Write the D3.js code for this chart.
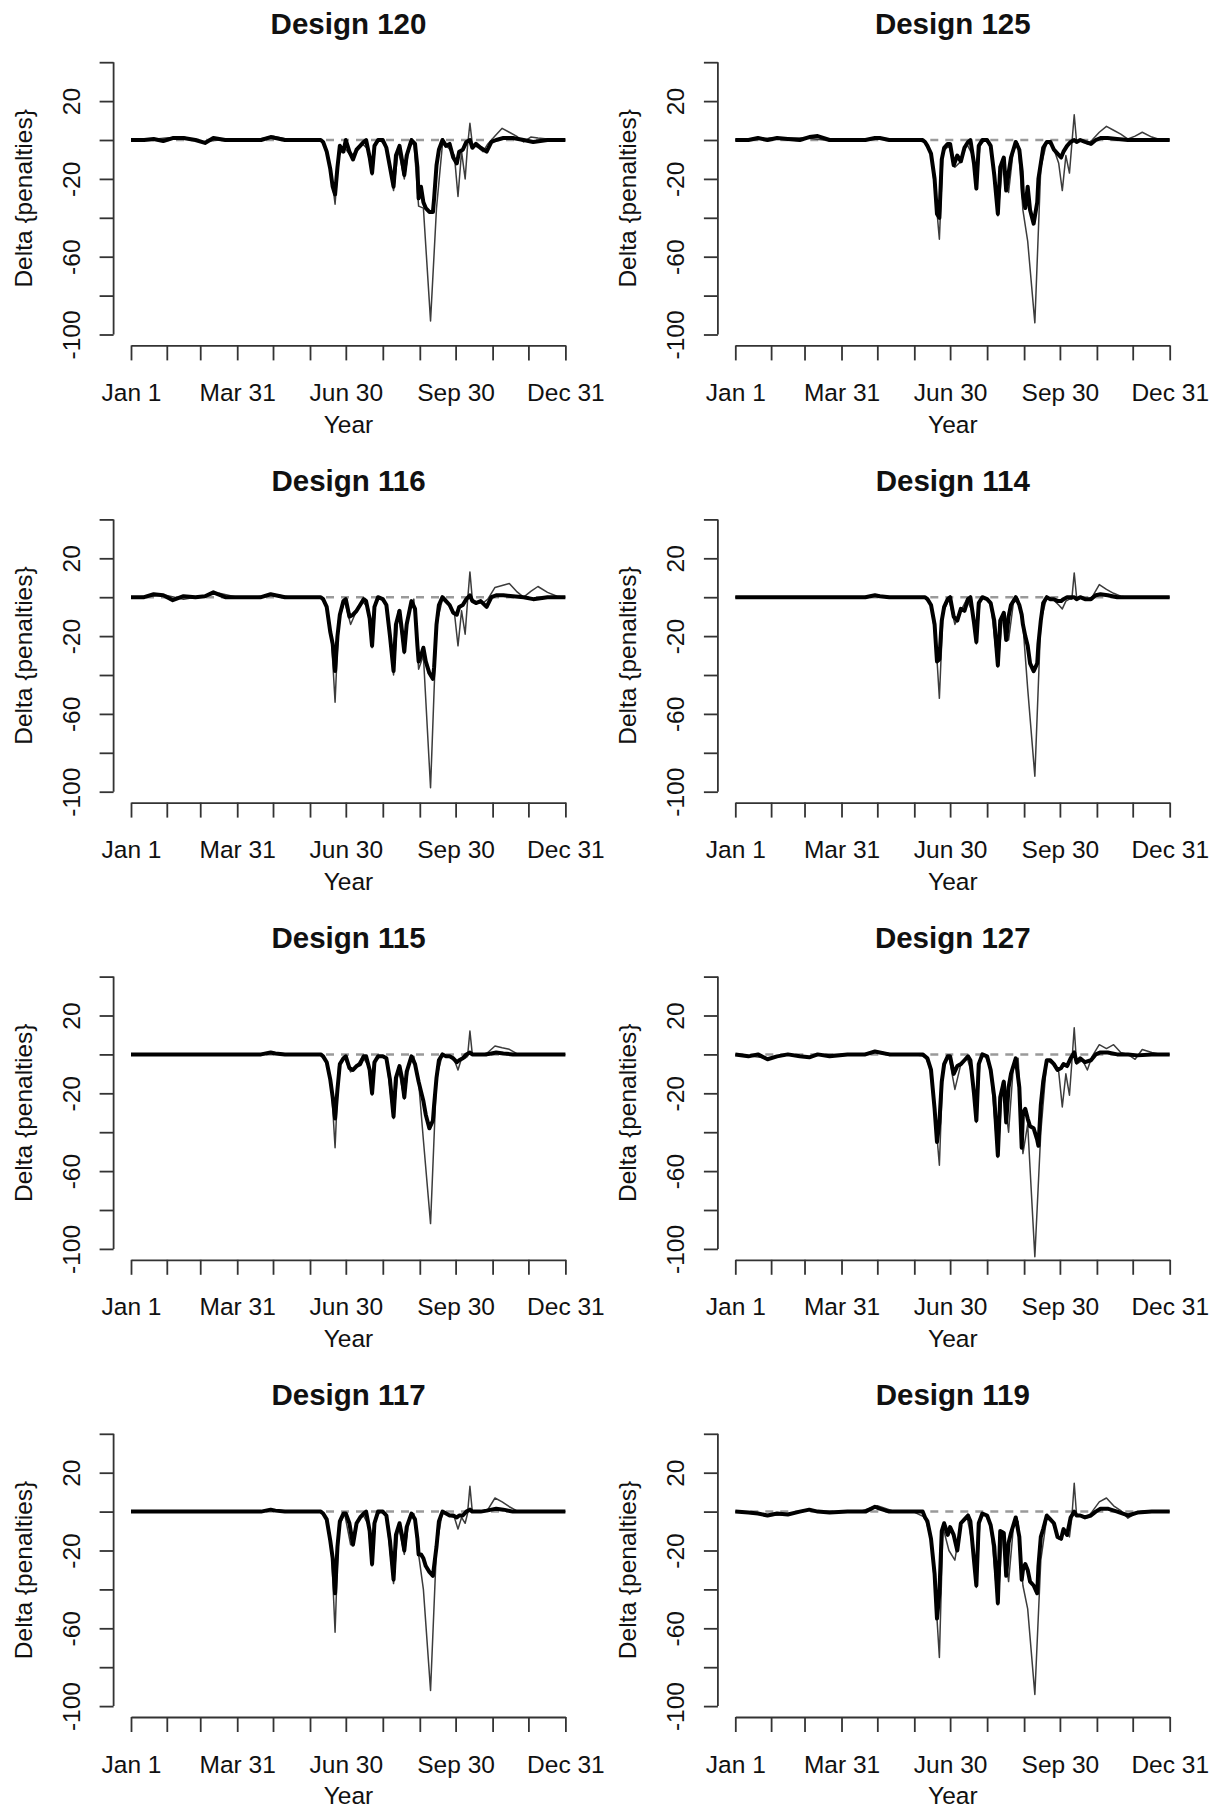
<!DOCTYPE html>
<html lang="en">
<head>
<meta charset="utf-8">
<title>Delta penalties by design</title>
<script src="https://cdn.jsdelivr.net/npm/d3@7"></script>
<style>
  body { margin: 0; background: #fff; }
  text { font-family: "Liberation Sans", Arial, Helvetica, sans-serif; fill: #111; }
</style>
</head>
<body>
<script>
// panel titles, row by row
var titles = ["Design 120", "Design 125", "Design 116", "Design 114",
              "Design 115", "Design 127", "Design 117", "Design 119"];

// x axis: day of year
var tickDays = [1, 31, 59, 90, 120, 151, 181, 212, 243, 273, 304, 334, 365];
var tickLabels = {1: "Jan 1", 90: "Mar 31", 181: "Jun 30", 273: "Sep 30", 365: "Dec 31"};
var yTicks = [40, 20, 0, -20, -40, -60, -80, -100];
var yLabels = [20, -20, -60, -100];

// thick (daily) series, sampled at these days
var thickDays = [1, 12, 20, 28, 36, 45, 55, 63, 70, 80, 95, 110, 118, 122, 130, 145, 158,
  160, 162, 165, 168, 170, 172, 174, 176, 179, 181,
  184, 187, 190, 193, 196, 198, 201, 203, 205, 208,
  212, 215, 218, 221, 223, 226, 228, 230, 232, 236,
  239, 241, 242, 244, 246, 248, 251, 254, 255, 257,
  259, 262, 265, 268, 271, 274, 276, 279, 282, 285,
  287, 290, 294, 299, 303, 307, 313, 321, 330, 338,
  350, 365];

var thick120 = [0, 0, 0.5, -0.5, 1, 1, 0, -1.5, 1, 0, 0, 0, 1.5, 1, 0, 0, 0,
  0, -1, -6, -15, -24, -28, -14, -3, -6, 0,
  -6, -10, -5, -3, -1, 0, -9, -17, -3, 0,
  0, -4, -14, -24, -8, -3, -10, -18, -8, 0,
  -2, -14, -30, -24, -32, -35, -37, -37, -30, -13,
  -5, 0, -3, -2, -9, -12, -6, -5, -1, 0,
  -4, -2, -4, -6, -1, 0, 1, 1, 0, -1,
  0, 0];
var thick125 = [0, 0, 1, 0, 1, 0.5, 0, 1.5, 2, 0, 0, 0, 1, 1, 0, 0, 0,
  -1, -3, -7, -20, -38, -40, -10, -4, -2, -2,
  -13, -8, -11, -4, -1, 0, -12, -25, -3, 0,
  0, -3, -18, -38, -14, -9, -26, -17, -9, -1,
  -5, -16, -28, -35, -24, -36, -43, -32, -20, -12,
  -4, -1, -1, -5, -7, -9, -6, -3, -1, 0,
  -1, 0, -1, -2, 0, 1, 1, 0.5, 0, 0,
  0, 0];
var thick116 = [0, 0, 1.5, 1, -1.5, 0.5, 0, 0.5, 2.5, 0, 0, 0, 1.5, 1, 0, 0, 0,
  0, -1, -5, -18, -24, -38, -20, -9, -2, -1,
  -10, -9, -7, -4, -1, -2, -11, -25, -5, 0,
  -1, -4, -20, -38, -14, -7, -17, -28, -14, -2,
  -6, -25, -33, -30, -26, -33, -39, -42, -36, -14,
  -4, 0, -2, -4, -8, -9, -5, -4, -1, 1,
  -2, -3, -2, -5, 0, 1, 1, 0.5, 0, -1,
  0, 0];
var thick114 = [0, 0, 0, 0, 0, 0, 0, 0, 0, 0, 0, 0, 1, 0.5, 0, 0, 0,
  0, -1, -4, -14, -33, -32, -12, -5, -1, 0,
  -10, -12, -6, -7, -1, 0, -13, -23, -3, 0,
  -1, -3, -12, -35, -12, -8, -22, -10, -4, 0,
  -4, -9, -14, -20, -25, -34, -38, -34, -24, -12,
  -3, 0, -1, -1, -2, -2, -1, 0, 0, 0,
  -1, 0, -1, -1, 1, 1.5, 1, 0, 0, 0,
  0, 0];
var thick115 = [0, 0, 0, 0, 0, 0, 0, 0, 0, 0, 0, 0, 1, 0.5, 0, 0, 0,
  0, -1, -4, -13, -22, -33, -18, -5, -2, -1,
  -7, -8, -6, -5, -1, -1, -8, -20, -4, -1,
  -1, -2, -13, -32, -12, -6, -12, -22, -9, -1,
  -5, -11, -14, -19, -24, -31, -38, -34, -26, -12,
  -3, 0, -1, -1, -2, -4, -3, -2, 0, 1,
  0, 0, 0, 0, 0.5, 1, 0.5, 0, 0, 0,
  0, 0];
var thick127 = [0, -1, 0, -2.5, -1, 0, -1, -1.5, 0, -1, 0, 0, 1.5, 1, 0, 0, 0,
  -1, -2, -8, -28, -45, -35, -14, -5, -1, -1,
  -10, -6, -5, -3, -1, -3, -20, -34, -5, 0,
  -1, -8, -22, -52, -22, -14, -35, -17, -10, -2,
  -17, -48, -30, -28, -33, -37, -38, -44, -47, -26,
  -14, -3, -3, -5, -8, -7, -5, -6, -2, 1,
  -4, -2, -4, -3, 0, 1, 1, 0, 0, -0.5,
  0, 0];
var thick117 = [0, 0, 0, 0, 0, 0, 0, 0, 0, 0, 0, 0, 1, 0.5, 0, 0, 0,
  0, -1, -4, -15, -24, -42, -18, -5, -1, -1,
  -6, -17, -6, -3, -1, 0, -10, -27, -6, 0,
  0, -2, -15, -35, -12, -6, -12, -20, -8, -1,
  -4, -14, -22, -22, -24, -28, -31, -33, -28, -18,
  -5, 0, -1, -2, -2, -3, -2, -2, 0, 1,
  0, 0, 0, 0.5, 1, 1.5, 1, 0, 0, 0,
  0, 0];
var thick119 = [0, -0.5, -1, -2, -1, -1.5, 0, 1, 0, -0.5, 0, 0, 2.5, 1.5, 0, 0, 0,
  -3, -5, -14, -32, -55, -42, -10, -6, -12, -8,
  -12, -20, -6, -4, -2, -5, -25, -38, -6, -1,
  -2, -7, -18, -47, -10, -11, -33, -16, -11, -3,
  -13, -35, -30, -27, -30, -36, -38, -42, -28, -13,
  -9, -2, -4, -6, -13, -14, -9, -12, -3, 0,
  -2, -2, -3, -2, 0, 1.5, 1.5, 0, -2, -0.5,
  0, 0];

// thin (weekly-ish) series, sampled at these days
var thinDays = [1, 15, 30, 45, 60, 75, 90, 105, 120, 135, 150,
  160, 165, 169, 172, 175, 180, 185, 190, 195, 200,
  203, 206, 210, 215, 221, 225, 230, 234, 238, 242,
  246, 252, 257, 262, 267, 272, 275, 278, 281, 283,
  285, 287, 292, 296, 300, 306, 312, 318, 324, 330,
  336, 342, 350, 358, 365];

var thin120 = [0, 0, 1, 1.5, -1, 0, 0, 0, 2, 0, 0,
  0, -5, -18, -33, -8, -4, -8, -6, -2, -5,
  -18, -2, 0, -4, -26, -5, -20, -4, -1, -34,
  -35, -93, -35, -2, -4, -8, -29, -6, -20, -3,
  8.6, -2, -4, -6, -2, 2, 6, 4, 2, -1,
  1.5, 1, 0.5, 0, 0];
var thin125 = [0, 0, 1, 1, 1, 0, 0, 0, 1, 0, 0,
  -1, -7, -30, -51, -6, -3, -14, -11, -2, -8,
  -25, -3, 0, -3, -39, -12, -27, -5, -2, -36,
  -52, -94, -14, -1, -3, -12, -26, -8, -17, -2,
  13, -1, 0, -2, 0, 4, 7, 5, 3, 0.5,
  2, 4, 1.5, 0, 0];
var thin116 = [0, 0.5, 1, -1, 0.5, 2, 0, 0, 1.5, 0, 0,
  0, -5, -22, -54, -12, -2, -14, -7, -2, -6,
  -26, -3, 0, -4, -40, -7, -29, -6, -1, -37,
  -30, -98, -14, -1, -4, -8, -25, -7, -19, -2,
  13, -1, -3, -3, -1, 5, 6, 7, 3, 0,
  3, 5.5, 2.5, 0.5, 0];
var thin114 = [0, 0, 0, 0, 0, 0, 0, 0, 1, 0, 0,
  0, -4, -22, -52, -8, -1, -14, -7, -1, -8,
  -24, -2, 0, -3, -36, -9, -22, -3, -1, -14,
  -47, -92, -12, 0, -1, -4, -6, -2, -1, -1,
  12.5, 0, 0, -1, 0, 6.5, 4, 2, 0.5, 0,
  0, 0, 0, 0, 0];
var thin115 = [0, 0, 0, 0, 0, 0, 0, 0, 1, 0, 0,
  0, -4, -17, -48, -6, -2, -9, -6, -1, -6,
  -21, -3, -1, -2, -33, -7, -23, -4, -1, -14,
  -44, -87, -12, 0, -1, -3, -8, -2, -2, -1,
  12, 0, 0, 0, 1, 4.3, 3.4, 2.6, 0.5, 0,
  0, 0, 0, 0, 0];
var thin127 = [0, -1, -2, 0, -1.5, 0, 0, 0, 1.5, 0, 0,
  -1, -8, -35, -57, -6, -1, -18, -5, -1, -12,
  -35, -3, 0, -8, -53, -14, -40, -6, -2, -51,
  -36, -104, -40, -3, -5, -9, -27, -10, -21, -4,
  13.7, -5, -3, -8, -1, 5, 3, 5, 1, 0,
  -2.5, 2.5, 1, 0, 0];
var thin117 = [0, 0, 0, 0, 0, 0, 0, 0, 1, 0, 0,
  0, -4, -20, -62, -8, -1, -17, -6, -1, -7,
  -28, -3, 0, -2, -37, -7, -22, -4, -1, -22,
  -40, -92, -18, 0, -2, -3, -9, -3, -6, -1,
  13, 0, 0, 0, 1, 7, 5, 2.5, 0.5, 0,
  0, 0, 0, 0, 0];
var thin119 = [0, -1, -2, -1.5, 1, 0, 0, 0, 3, 0, 0,
  -3, -14, -45, -75, -8, -20, -25, -6, -2, -18,
  -39, -4, -1, -7, -48, -10, -36, -8, -5, -38,
  -50, -94, -25, -3, -6, -14, -12, -10, -13, -3,
  14.6, -2, -2, -3, 0, 5, 7, 3, 0.5, -3.4,
  -1, 0, 0, 0, 0];

var thickAll = [thick120, thick125, thick116, thick114, thick115, thick127, thick117, thick119];
var thinAll = [thin120, thin125, thin116, thin114, thin115, thin127, thin117, thin119];

//Width and height
var w = 1216;
var h = 1811;
var rowH = 457.2;
var colW = 604.3;

var svg = d3.select("body")
        .append("svg")
        .attr("width", w)
        .attr("height", h);

var line = d3.line()
        .x(function (d) { return d.x; })
        .y(function (d) { return d.y; });

titles.forEach(function (title, i) {
    var col = i % 2;
    var row = Math.floor(i / 2);
    var g = svg.append("g")
            .attr("transform", "translate(" + (col * colW) + "," + (row * rowH) + ")");

    var xScale = d3.scaleLinear().domain([1, 365]).range([131, 565.4]);
    var yScale = d3.scaleLinear().domain([-100, 40]).range([334.5, 62.2]);
    var axisX = 113.6, axisY = 345.4;
    var cx = (axisX + 583.4) / 2;

    // zero reference, dashed
    g.append("line")
        .attr("x1", xScale(1)).attr("x2", xScale(365))
        .attr("y1", yScale(0)).attr("y2", yScale(0))
        .attr("stroke", "#9a9a9a")
        .attr("stroke-width", 2.5)
        .attr("stroke-dasharray", "8,7");

    var thinPts = thinDays.map(function (d, k) {
        return {x: xScale(d), y: yScale(thinAll[i][k])};
    });
    var thickPts = thickDays.map(function (d, k) {
        return {x: xScale(d), y: yScale(thickAll[i][k])};
    });

    g.append("path")
        .attr("d", line(thinPts))
        .attr("fill", "none")
        .attr("stroke", "#3c3c3c")
        .attr("stroke-width", 1.5)
        .attr("stroke-linejoin", "round");

    g.append("path")
        .attr("d", line(thickPts))
        .attr("fill", "none")
        .attr("stroke", "#000")
        .attr("stroke-width", 4)
        .attr("stroke-linejoin", "round");

    // x axis
    var gx = g.append("g")
        .attr("transform", "translate(0," + axisY + ")")
        .call(d3.axisBottom(xScale)
            .tickValues(tickDays)
            .tickSize(15)
            .tickSizeOuter(0)
            .tickFormat(function (d) { return tickLabels[d] || ""; }));
    gx.selectAll("path, line").attr("stroke", "#333").attr("stroke-width", 1.8);
    gx.selectAll("text")
        .attr("y", 55.6).attr("dy", 0)
        .attr("font-size", "24.5px")
        .attr("fill", "#111");

    // y axis
    var gy = g.append("g")
        .attr("transform", "translate(" + axisX + ",0)")
        .call(d3.axisLeft(yScale)
            .tickValues(yTicks)
            .tickSize(14)
            .tickSizeOuter(0)
            .tickFormat(function (d) { return yLabels.indexOf(d) >= 0 ? d : ""; }));
    gy.select(".domain").attr("d", "M0," + yScale(40) + "V" + yScale(-100));
    gy.selectAll("path, line").attr("stroke", "#333").attr("stroke-width", 1.8);
    gy.selectAll("text")
        .attr("x", 0).attr("y", 0).attr("dy", "0.35em")
        .attr("text-anchor", "middle")
        .attr("transform", "translate(-42,0) rotate(-90)")
        .attr("font-size", "24.5px")
        .attr("fill", "#111");

    // labels
    g.append("text")
        .attr("x", cx).attr("y", 33.5)
        .attr("text-anchor", "middle")
        .attr("font-size", "29.5px")
        .attr("font-weight", "bold")
        .text(title);

    g.append("text")
        .attr("x", cx).attr("y", 432.5)
        .attr("text-anchor", "middle")
        .attr("font-size", "24.5px")
        .text("Year");

    g.append("text")
        .attr("transform", "translate(23," + ((51.3 + axisY) / 2) + ") rotate(-90)")
        .attr("dy", "0.35em")
        .attr("text-anchor", "middle")
        .attr("font-size", "24.5px")
        .text("Delta {penalties}");
});
</script>
</body>
</html>
